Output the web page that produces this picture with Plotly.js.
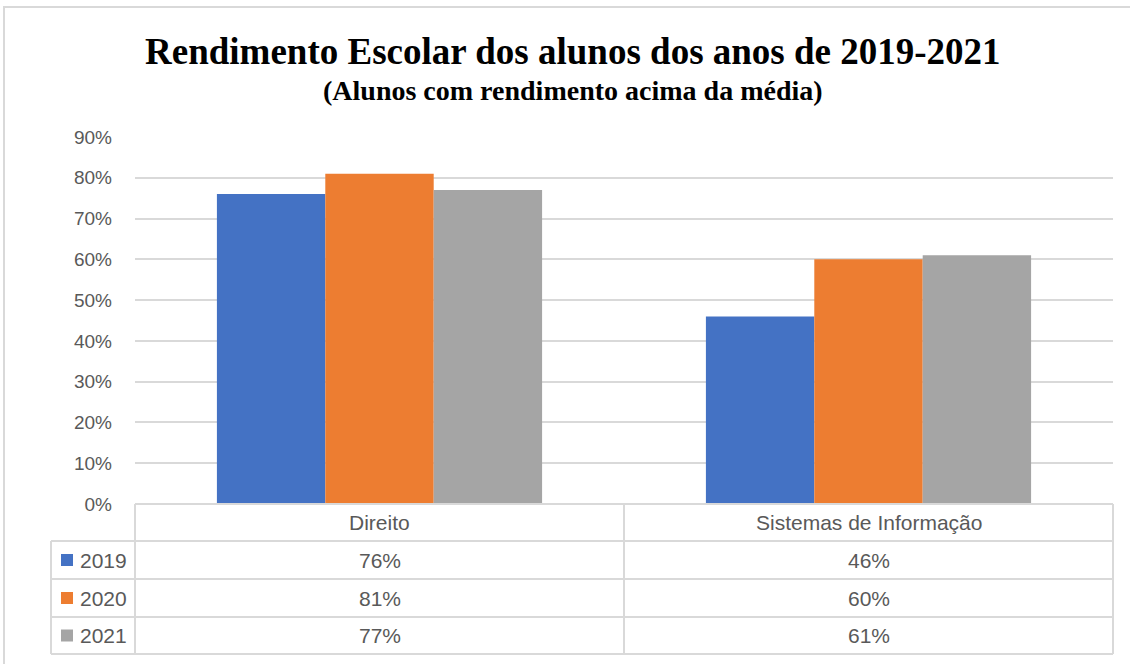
<!DOCTYPE html>
<html>
<head>
<meta charset="utf-8">
<script src="https://cdn.plot.ly/plotly-3.0.1.min.js"></script>
<style>
  body { margin: 0; background: #fff; }
  #chart { width: 1130px; height: 664px; }
</style>
</head>
<body>
<div id="chart"></div>
<script>
var categories = ['Direito', 'Sistemas de Informação'];
var years = ['2019', '2020', '2021'];
var values2019 = [0.76, 0.46];
var values2020 = [0.81, 0.60];
var values2021 = [0.77, 0.61];
var tickVals = [0, 0.1, 0.2, 0.3, 0.4, 0.5, 0.6, 0.7, 0.8, 0.9];
var tickText = ['0%', '10%', '20%', '30%', '40%', '50%', '60%', '70%', '80%', '90%'];

var colors = ['#4472C4', '#ED7D31', '#A5A5A5'];
var series = [values2019, values2020, values2021];

// plot area in pixels: x 135..1113, y 137..504
var L = 135, R = 1113, T = 137, B = 504;
function px(x) { return (x - L) / (R - L); }
function py(y) { return (B - y) / (B - T); }

var data = series.map(function(vals, i) {
  return {
    type: 'bar',
    name: years[i],
    x: categories,
    y: vals,
    marker: { color: colors[i] },
    hoverinfo: 'none'
  };
});

var gridCol = '#D9D9D9';
var tickFont = { family: 'Liberation Sans, Arial, sans-serif', size: 19, color: '#595959' };
var txtFont = { family: 'Liberation Sans, Arial, sans-serif', size: 21, color: '#595959' };
var rows = [504, 541, 579, 617, 654];

var shapes = [];
function line(x0, y0, x1, y1) {
  shapes.push({ type: 'line', xref: 'paper', yref: 'paper',
    x0: px(x0), y0: py(y0), x1: px(x1), y1: py(y1),
    line: { color: gridCol, width: 2 } });
}
// table borders
line(L, rows[0], R, rows[0]);
for (var r = 1; r < rows.length; r++) line(51, rows[r], R, rows[r]);
line(51, rows[1], 51, rows[4]);
line(L, rows[0], L, rows[4]);
line((L + R) / 2, rows[0], (L + R) / 2, rows[4]);
line(R, rows[0], R, rows[4]);
// outer frame (top and left edges)
line(3, 7, 1130, 7);
line(4, 7, 4, 664);

var annotations = [];
function note(xref, x, y, text, font, xanchor) {
  annotations.push({ xref: xref, yref: 'paper', x: x, y: y, text: text,
    showarrow: false, font: font, xanchor: xanchor || 'center', yanchor: 'middle' });
}
note('paper', px(573), py(51), '<b>Rendimento Escolar dos alunos dos anos de 2019-2021</b>',
  { family: 'Liberation Serif, Times New Roman, serif', size: 37, color: '#000' });
note('paper', px(573), py(90), '<b>(Alunos com rendimento acima da média)</b>',
  { family: 'Liberation Serif, Times New Roman, serif', size: 28, color: '#000' });

categories.forEach(function(c) {
  note('x', c, py((rows[0] + rows[1]) / 2), c, txtFont);
});
series.forEach(function(vals, i) {
  var yy = (rows[i + 1] + rows[i + 2]) / 2;
  vals.forEach(function(v, j) {
    note('x', categories[j], py(yy), Math.round(v * 100) + '%', txtFont);
  });
  note('paper', px(78), py(yy), years[i], txtFont, 'left');
  shapes.push({ type: 'rect', xref: 'paper', yref: 'paper',
    x0: px(61), x1: px(73), y0: py(yy - 6), y1: py(yy + 6),
    fillcolor: colors[i], line: { width: 0 } });
});

var layout = {
  width: 1130,
  height: 664,
  margin: { l: L, r: 1130 - R, t: T, b: 664 - B },
  paper_bgcolor: '#fff',
  plot_bgcolor: '#fff',
  showlegend: false,
  barmode: 'group',
  bargap: 0.335,
  bargroupgap: 0,
  xaxis: {
    showticklabels: false,
    showgrid: false,
    zeroline: false,
    showline: false,
    ticks: ''
  },
  yaxis: {
    range: [0, 0.9],
    tickvals: tickVals,
    ticktext: tickText,
    showgrid: true,
    gridcolor: gridCol,
    gridwidth: 2,
    zeroline: false,
    showline: false,
    ticks: '',
    ticklabelstandoff: 22,
    tickfont: tickFont
  },
  shapes: shapes,
  annotations: annotations
};

Plotly.newPlot('chart', data, layout, { displayModeBar: false, staticPlot: true });
</script>
</body>
</html>
